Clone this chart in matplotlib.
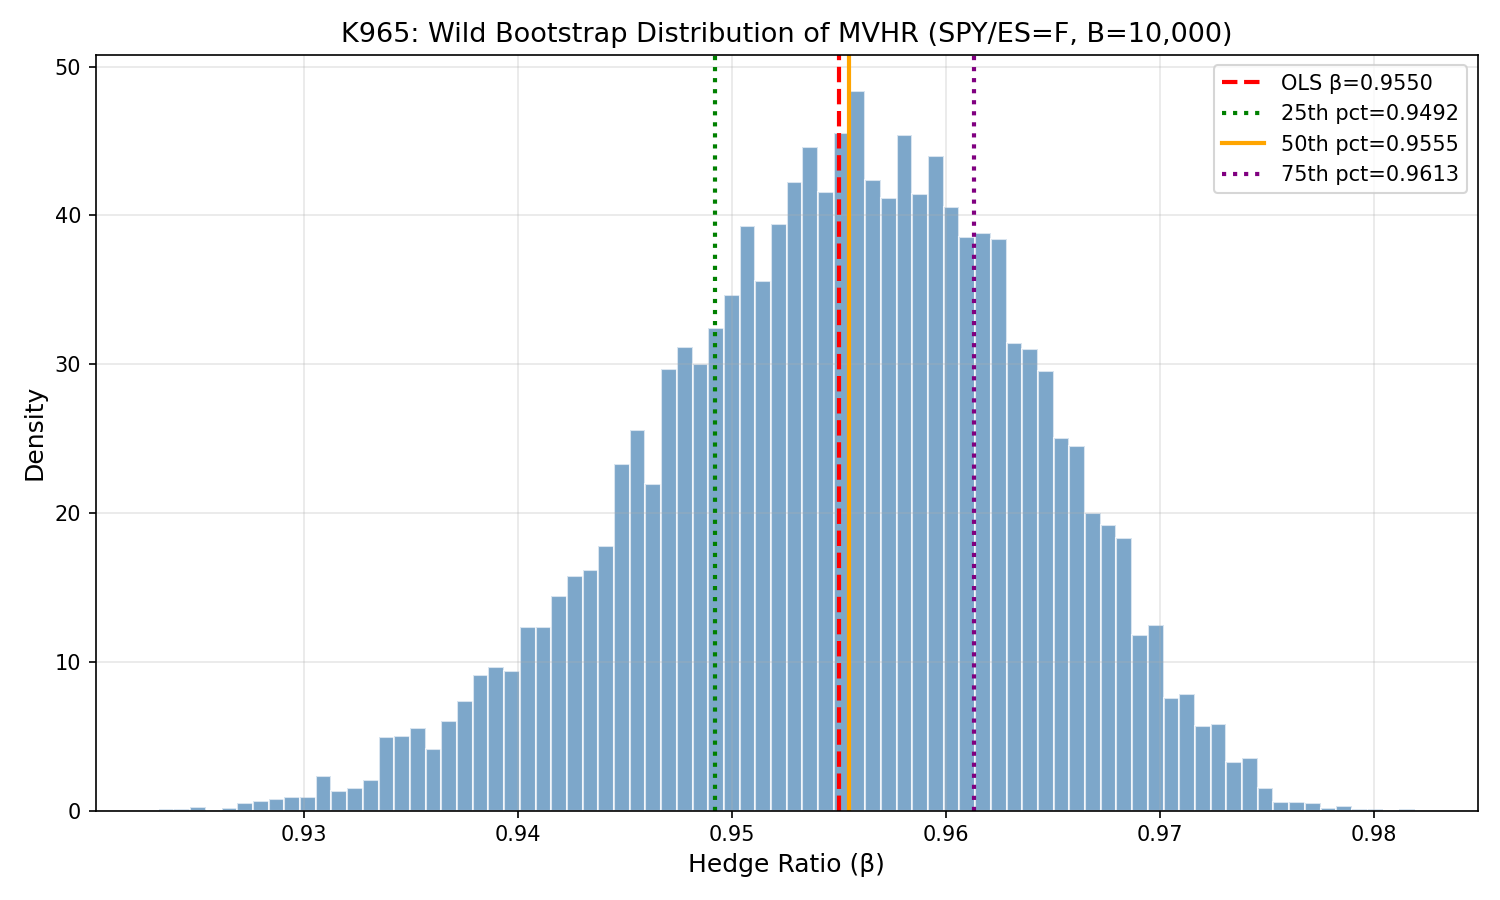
import numpy as np
import matplotlib
matplotlib.use("Agg")
import matplotlib.pyplot as plt

# Bootstrap histogram: 80 bins between the min and max bootstrap beta
beta_min = 0.92322
beta_max = 0.98192
n_bins = 80

# Density of each bin, read left to right
density = [
    0.14, 0.14, 0.27, 0.00, 0.20, 0.49, 0.62, 0.76, 0.90, 0.90,
    2.32, 1.30, 1.51, 2.05, 4.92, 5.03, 5.58, 4.12, 6.02, 7.39,
    9.13, 9.66, 9.39, 12.37, 12.37, 14.41, 15.75, 16.15, 17.81, 23.27,
    25.59, 21.93, 29.66, 31.13, 30.02, 32.45, 34.62, 39.29, 35.62, 39.42,
    42.27, 44.57, 41.59, 45.51, 48.36, 42.40, 41.17, 45.38, 41.46, 44.02,
    40.55, 38.53, 38.80, 38.39, 31.40, 31.00, 29.52, 25.02, 24.47, 20.00,
    19.18, 18.31, 11.79, 12.47, 7.59, 7.83, 5.69, 5.84, 3.28, 3.55,
    1.49, 0.61, 0.61, 0.48, 0.20, 0.34, 0.14, 0.14, 0.00, 0.14,
]

ols_beta = 0.9550
pct_labels = ["25th", "50th", "75th"]
pct_values = [0.9492, 0.9555, 0.9613]

edges = np.linspace(beta_min, beta_max, n_bins + 1)

fig, ax = plt.subplots(figsize=(10, 6), dpi=150)
ax.hist(edges[:-1], bins=edges, weights=density, alpha=0.7,
        color="steelblue", edgecolor="white")

ax.axvline(ols_beta, color="red", linestyle="--", linewidth=2,
           label=f"OLS β={ols_beta:.4f}")
ax.axvline(pct_values[0], color="green", linestyle=":", linewidth=2,
           label=f"{pct_labels[0]} pct={pct_values[0]:.4f}")
ax.axvline(pct_values[1], color="orange", linestyle="-", linewidth=2,
           label=f"{pct_labels[1]} pct={pct_values[1]:.4f}")
ax.axvline(pct_values[2], color="purple", linestyle=":", linewidth=2,
           label=f"{pct_labels[2]} pct={pct_values[2]:.4f}")

ax.set_xlabel("Hedge Ratio (β)", fontsize=12)
ax.set_ylabel("Density", fontsize=12)
ax.set_title("K965: Wild Bootstrap Distribution of MVHR (SPY/ES=F, B=10,000)",
             fontsize=13)
ax.legend(loc="upper right")
ax.grid(True, alpha=0.3)

plt.tight_layout()
plt.savefig("out.png", dpi=150)
